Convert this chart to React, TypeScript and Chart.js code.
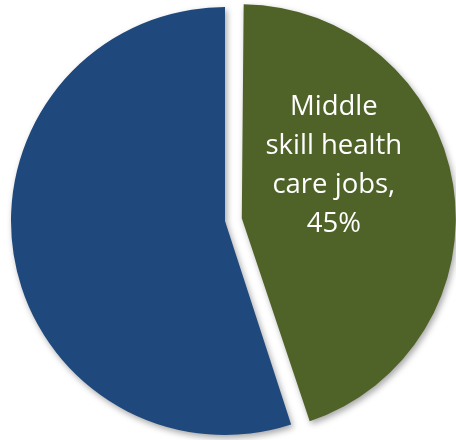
import React, { useEffect, useRef } from "react";
import { Chart, registerables } from "chart.js";

Chart.register(...registerables);

const categories = ["Middle skill health care jobs", "Other jobs"];
const values = [45, 55];
const colors = ["#4F6228", "#1F487C"];
const labelLines = ["Middle", "skill health", "care jobs,", "45%"];

const shadowPlugin = {
  id: "shadowPlugin",
  beforeDatasetsDraw(chart: any) {
    const ctx = chart.ctx;
    ctx.save();
    ctx.shadowColor = "rgba(0,0,0,0.35)";
    ctx.shadowBlur = 6;
    ctx.shadowOffsetX = 2;
    ctx.shadowOffsetY = 3;
  },
  afterDatasetsDraw(chart: any) {
    chart.ctx.restore();
  },
};

// keep exploded slice at the same radius as the others
const radiusFixPlugin = {
  id: "radiusFix",
  afterDatasetsUpdate(chart: any) {
    const meta = chart.getDatasetMeta(0);
    meta.data.forEach((arc: any) => {
      const off = (arc.options?.offset || 0) / 4;
      if (off > 0) {
        const circ = arc.circumference;
        const fix = 1 - Math.sin(Math.min(Math.PI, circ || 0));
        arc.outerRadius = arc.outerRadius - off * fix;
      }
    });
  },
};

const labelPlugin = {
  id: "sliceLabel",
  afterDraw(chart: any) {
    const meta = chart.getDatasetMeta(0);
    const arc: any = meta.data[0];
    if (!arc) return;
    const ctx = chart.ctx;
    const off = (arc.options?.offset || 0) / 4;
    const mid = (arc.startAngle + arc.endAngle) / 2;
    const cx = arc.x + Math.cos(mid) * off;
    const cy = arc.y + Math.sin(mid) * off;
    const r = arc.outerRadius;
    const lx = cx + r * 0.455;
    const ly = cy - r * 0.265;
    ctx.save();
    ctx.fillStyle = "#ffffff";
    ctx.font = "27.5px 'Open Sans'";
    ctx.textAlign = "center";
    ctx.textBaseline = "alphabetic";
    const lh = 39;
    const n = labelLines.length;
    labelLines.forEach((t, i) => {
      ctx.fillText(t, lx, ly + (i - (n - 1) / 2) * lh + 9);
    });
    ctx.restore();
  },
};

export default function App() {
  const ref = useRef<HTMLCanvasElement>(null);
  useEffect(() => {
    if (!ref.current) return;
    const chart = new Chart(ref.current, {
      type: "pie",
      data: {
        labels: categories,
        datasets: [
          {
            data: values,
            backgroundColor: colors,
            borderWidth: 0,
            offset: [68, 0],
            hoverOffset: 0,
          },
        ],
      },
      options: {
        responsive: false,
        animation: false,
        radius: 214,
        layout: { padding: { left: 0, right: 6, top: 2, bottom: 0 } },
        plugins: {
          legend: { display: false },
          tooltip: { enabled: false },
        },
        events: [],
      } as any,
      plugins: [radiusFixPlugin, shadowPlugin, labelPlugin],
    });
    return () => chart.destroy();
  }, []);
  return (
    <div style={{ position: "absolute", left: 0, top: 0, width: 456, height: 440, background: "#fff" }}>
      <canvas ref={ref} width={456} height={440} style={{ display: "block" }} />
    </div>
  );
}
